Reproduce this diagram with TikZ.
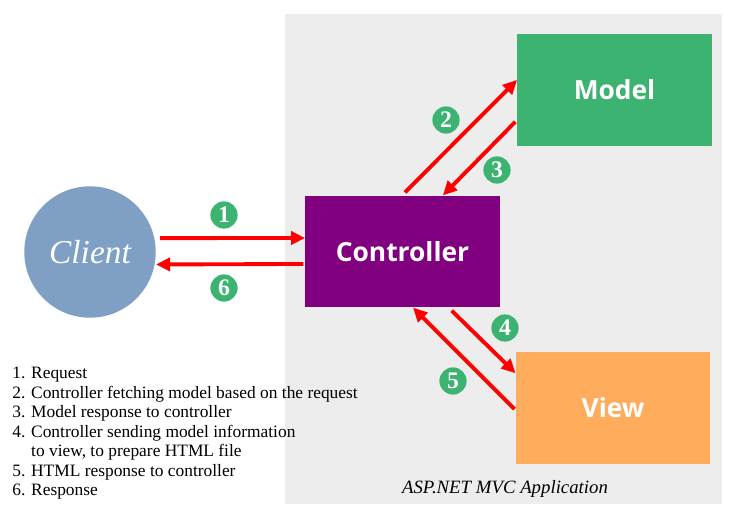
\documentclass[tikz,border=0pt]{standalone}
\usepackage{fontspec}
\setmainfont{Liberation Serif}
\newfontfamily\boxfont{Open Sans}
\usetikzlibrary{arrows.meta}
\definecolor{panelgray}{RGB}{237,237,237}
\definecolor{modelgreen}{RGB}{60,179,113}
\definecolor{ctrlpurple}{RGB}{128,0,128}
\definecolor{vieworange}{RGB}{255,173,92}
\definecolor{clientblue}{RGB}{127,160,196}
\definecolor{stepgreen}{RGB}{60,179,113}

\begin{document}
\begin{tikzpicture}
  [x=0.02cm,y=-0.02cm,
   part/.style={rectangle,minimum width=110.5pt,minimum height=63.5pt,inner sep=0pt,
     text=white,font=\boxfont\bfseries\fontsize{15}{18}\selectfont},
   num/.style={circle,fill=stepgreen,text=white,minimum size=15.5pt,inner sep=0pt,
     font=\bfseries\fontsize{13.5}{13.5}\selectfont},
   flow/.style={red,line width=2.2pt,-{Triangle[length=8pt,width=7.5pt]}}]
  \useasboundingbox[fill=white] (0,0) rectangle (734,518);
  \fill[panelgray] (285,14) rectangle (722,504);

  \node[part,fill=modelgreen]  (model) at (614.5,90)  {Model};
  \node[part,fill=ctrlpurple]  (ctrl)  at (402.5,251.5) {Controller};
  \node[part,fill=vieworange]  (view)  at (613,408)  {View};
  \node[circle,fill=clientblue,minimum size=74.8pt,inner sep=0pt,text=white,
        font=\itshape\fontsize{19}{19}\selectfont] (client) at (90,252) {Client};

  \node[num] (n1) at (224,215) {1};
  \node[num] (n2) at (446,120) {2};
  \node[num] (n3) at (497,170) {3};
  \node[num] (n4) at (505,328) {4};
  \node[num] (n5) at (453,381) {5};
  \node[num] (n6) at (224,288) {6};

  \draw[flow] ([xshift=2.3pt,yshift=7.9pt]client.east) -- ([yshift=7.7pt]ctrl.west);
  \draw[flow] ([xshift=-1pt,yshift=-7.1pt]ctrl.west) -- ([yshift=-7.1pt]client.east);
  \draw[flow] ([xshift=1.4pt,yshift=1.7pt]ctrl.north) -- ([yshift=5.7pt]model.west);
  \draw[flow] ([xshift=-1pt,yshift=-18.1pt]model.west) -- ([xshift=23pt]ctrl.north);
  \draw[flow] ([xshift=28pt,yshift=-1.7pt]ctrl.south) -- ([yshift=19.8pt]view.west);
  \draw[flow] ([xshift=-0.6pt,yshift=-0.6pt]view.west) -- ([xshift=6pt]ctrl.south);

  \node[anchor=north west,align=left,inner sep=0pt,font=\fontsize{9.9}{11.1}\selectfont]
    (legend) at (12,367) {1. Request\\
    2. Controller fetching model based on the request\\
    3. Model response to controller\\
    4. Controller sending model information\\
    \phantom{4. }to view, to prepare HTML file\\
    5. HTML response to controller\\
    6. Response};
  \node[font=\itshape\fontsize{10.7}{12}\selectfont] (app) at (505,489) {ASP.NET MVC Application};
\end{tikzpicture}
\end{document}
